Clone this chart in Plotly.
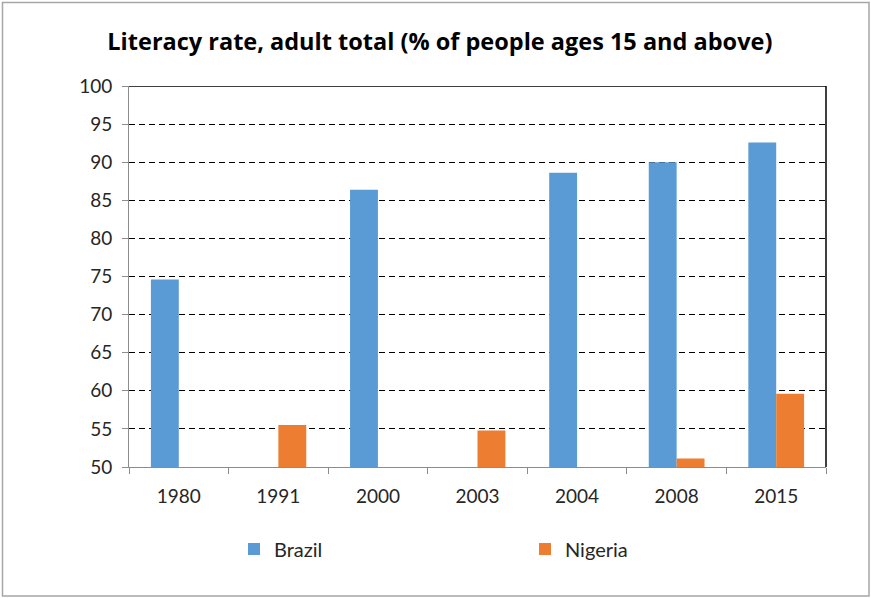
import plotly.graph_objects as go

years = ["1980", "1991", "2000", "2003", "2004", "2008", "2015"]
brazil = [74.6, None, 86.4, None, 88.6, 90.0, 92.6]
nigeria = [None, 55.5, None, 54.8, None, 51.1, 59.6]

W, H = 871, 598
ML, MR, MT, MB = 129, 45, 86, 131
PW, PH = W - ML - MR, H - MT - MB

FONT = "Lato"
TXT = "#262626"
AXIS = "#8c8c8c"

fig = go.Figure()
fig.add_trace(go.Bar(x=years, y=brazil, name="Brazil", marker=dict(color="#5B9BD5", line=dict(width=0))))
fig.add_trace(go.Bar(x=years, y=nigeria, name="Nigeria", marker=dict(color="#ED7D31", line=dict(width=0))))

# outer border of the whole figure, expressed in plot-area (paper) fractions
def px_x(p):
    return (p - ML) / PW

def px_y(p):
    return 1 - (p - MT) / PH

shapes = [
    dict(type="rect", xref="paper", yref="paper",
         x0=px_x(2.5), x1=px_x(869), y0=px_y(2.5), y1=px_y(596),
         line=dict(color="#a6a6a6", width=1.5), layer="below"),
    # black frame on top and right of the plot area
    dict(type="line", xref="x domain", yref="y", x0=0, x1=1, y0=100, y1=100,
         line=dict(color="#000000", width=1.5)),
    dict(type="line", xref="x domain", yref="y", x0=1, x1=1, y0=50, y1=100,
         line=dict(color="#000000", width=1.5)),
]

fig.update_layout(
    width=W, height=H,
    margin=dict(l=ML, r=MR, t=MT, b=MB, pad=0),
    paper_bgcolor="white", plot_bgcolor="white",
    barmode="group", bargap=0.44, bargroupgap=0,
    title=dict(text="<b>Literacy rate, adult total (% of people ages 15 and above)</b>",
               x=0.505, xref="container", xanchor="center",
               y=1 - 42 / H, yref="container", yanchor="middle",
               font=dict(family="Open Sans", size=23.5, color="#000000")),
    font=dict(family=FONT, size=19, color=TXT),
    xaxis=dict(type="category", showgrid=False, showline=True, linecolor=AXIS, linewidth=1,
               ticks="outside", tickson="boundaries", ticklen=6, tickcolor=AXIS,
               tickfont=dict(family=FONT, size=19, color=TXT), ticklabelstandoff=12),
    yaxis=dict(range=[50, 100], dtick=5, showline=True, linecolor=AXIS, linewidth=1,
               ticks="outside", ticklen=6, tickcolor=AXIS,
               showgrid=True, gridcolor="#000000", gridwidth=1, griddash="6px,4px",
               zeroline=False,
               tickfont=dict(family=FONT, size=19, color=TXT), ticklabelstandoff=6),
    legend=dict(orientation="h", x=px_x(234), xanchor="left", y=px_y(549), yanchor="middle",
                itemwidth=30, entrywidth=246, entrywidthmode="pixels",
                font=dict(family=FONT, size=20, color=TXT), bgcolor="rgba(0,0,0,0)"),
    shapes=shapes,
    showlegend=True,
)

fig.write_html("out.html")
